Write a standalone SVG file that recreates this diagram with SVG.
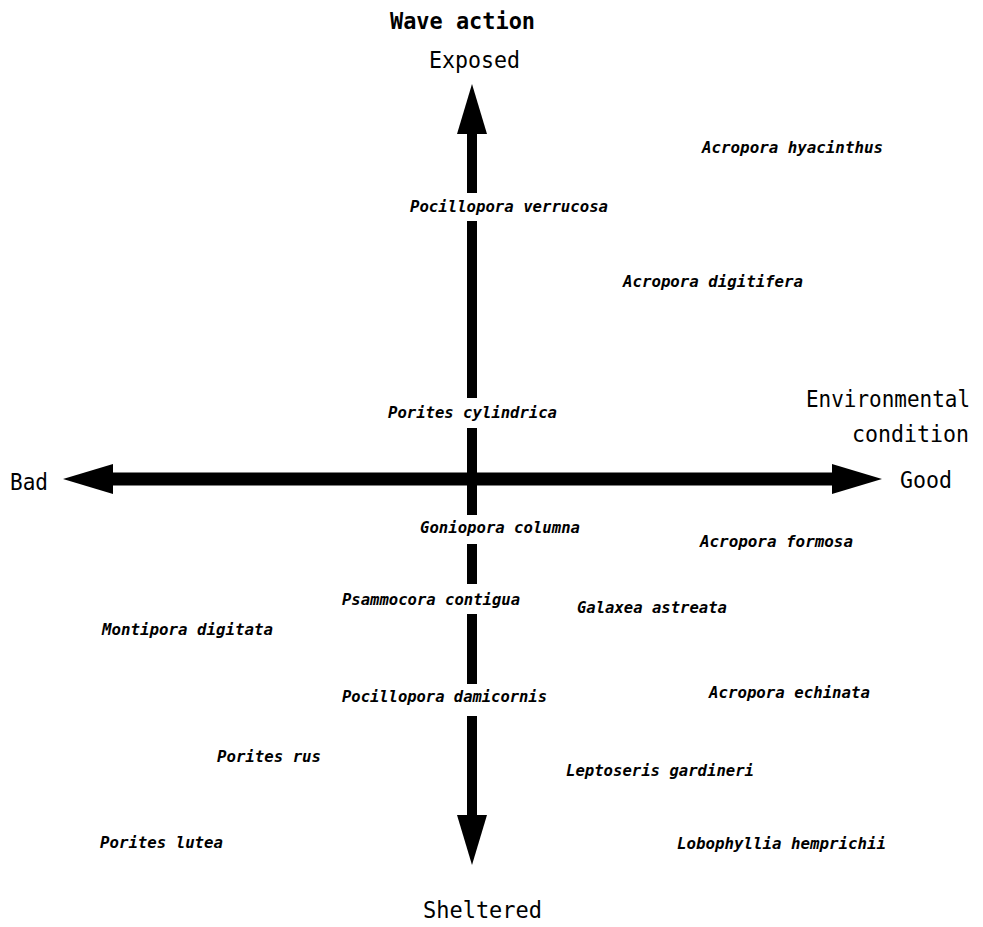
<svg xmlns="http://www.w3.org/2000/svg" width="983" height="927" viewBox="0 0 983 927">
<style>
.lbl{font-family:"DejaVu Sans Mono","Liberation Mono",monospace;font-size:23px;fill:#000}
.b{font-weight:bold}
.sp{font-family:"DejaVu Sans Mono","Liberation Mono",monospace;font-size:16.5px;font-weight:bold;font-style:oblique;fill:#000}
.bg{fill:#fff}
.ax{stroke:#000;fill:none}
</style>
<defs>
<marker id="ah" viewBox="0 0 50 30" markerUnits="userSpaceOnUse" markerWidth="50" markerHeight="30" refX="2" refY="15" orient="auto-start-reverse">
<path d="M0,0 L50,15 L0,30 z" fill="#000"/>
</marker>
</defs>
<rect width="983" height="927" fill="#fff"/>
<g id="connectors">
<line class="ax" x1="111" y1="479" x2="834" y2="479" stroke-width="13" marker-start="url(#ah)" marker-end="url(#ah)"/>
<line class="ax" x1="472" y1="132" x2="472" y2="817" stroke-width="10" marker-start="url(#ah)" marker-end="url(#ah)"/>
</g>
<g id="axis-labels">
<text id="wave-action" class="lbl b" x="390" y="29" textLength="145" lengthAdjust="spacingAndGlyphs">Wave action</text>
<text id="exposed" class="lbl" x="429" y="68" textLength="91" lengthAdjust="spacingAndGlyphs">Exposed</text>
<text id="bad" class="lbl" x="10" y="490" textLength="38" lengthAdjust="spacingAndGlyphs">Bad</text>
<text id="environmental" class="lbl" x="806" y="407" font-size="22" textLength="164" lengthAdjust="spacingAndGlyphs">Environmental</text>
<text id="condition" class="lbl" x="852" y="442" font-size="22" textLength="117" lengthAdjust="spacingAndGlyphs">condition</text>
<text id="good" class="lbl" x="900" y="488" textLength="52" lengthAdjust="spacingAndGlyphs">Good</text>
<text id="sheltered" class="lbl" x="423" y="918" textLength="119" lengthAdjust="spacingAndGlyphs">Sheltered</text>
</g>
<g id="n-acropora-hyacinthus"><text class="sp" x="702" y="153" textLength="181" lengthAdjust="spacingAndGlyphs">Acropora hyacinthus</text></g>
<g id="n-pocillopora-verrucosa"><rect class="bg" x="455" y="193" width="34" height="28"/><text class="sp" x="410" y="212" textLength="198" lengthAdjust="spacingAndGlyphs">Pocillopora verrucosa</text></g>
<g id="n-acropora-digitifera"><text class="sp" x="623" y="287" textLength="180" lengthAdjust="spacingAndGlyphs">Acropora digitifera</text></g>
<g id="n-porites-cylindrica"><rect class="bg" x="455" y="398" width="34" height="30"/><text class="sp" x="388" y="418" textLength="169" lengthAdjust="spacingAndGlyphs">Porites cylindrica</text></g>
<g id="n-goniopora-columna"><rect class="bg" x="455" y="515" width="34" height="29"/><text class="sp" x="420" y="533" textLength="160" lengthAdjust="spacingAndGlyphs">Goniopora columna</text></g>
<g id="n-acropora-formosa"><text class="sp" x="700" y="547" textLength="153" lengthAdjust="spacingAndGlyphs">Acropora formosa</text></g>
<g id="n-psammocora-contigua"><rect class="bg" x="455" y="584" width="34" height="30"/><text class="sp" x="342" y="605" textLength="178" lengthAdjust="spacingAndGlyphs">Psammocora contigua</text></g>
<g id="n-galaxea-astreata"><text class="sp" x="577" y="613" textLength="150" lengthAdjust="spacingAndGlyphs">Galaxea astreata</text></g>
<g id="n-montipora-digitata"><text class="sp" x="102" y="635" textLength="171" lengthAdjust="spacingAndGlyphs">Montipora digitata</text></g>
<g id="n-pocillopora-damicornis"><rect class="bg" x="455" y="684" width="34" height="32"/><text class="sp" x="342" y="702" textLength="205" lengthAdjust="spacingAndGlyphs">Pocillopora damicornis</text></g>
<g id="n-acropora-echinata"><text class="sp" x="709" y="698" textLength="161" lengthAdjust="spacingAndGlyphs">Acropora echinata</text></g>
<g id="n-porites-rus"><text class="sp" x="217" y="762" textLength="104" lengthAdjust="spacingAndGlyphs">Porites rus</text></g>
<g id="n-leptoseris-gardineri"><text class="sp" x="566" y="776" textLength="188" lengthAdjust="spacingAndGlyphs">Leptoseris gardineri</text></g>
<g id="n-porites-lutea"><text class="sp" x="100" y="848" textLength="123" lengthAdjust="spacingAndGlyphs">Porites lutea</text></g>
<g id="n-lobophyllia-hemprichii"><text class="sp" x="677" y="849" textLength="209" lengthAdjust="spacingAndGlyphs">Lobophyllia hemprichii</text></g>
</svg>
